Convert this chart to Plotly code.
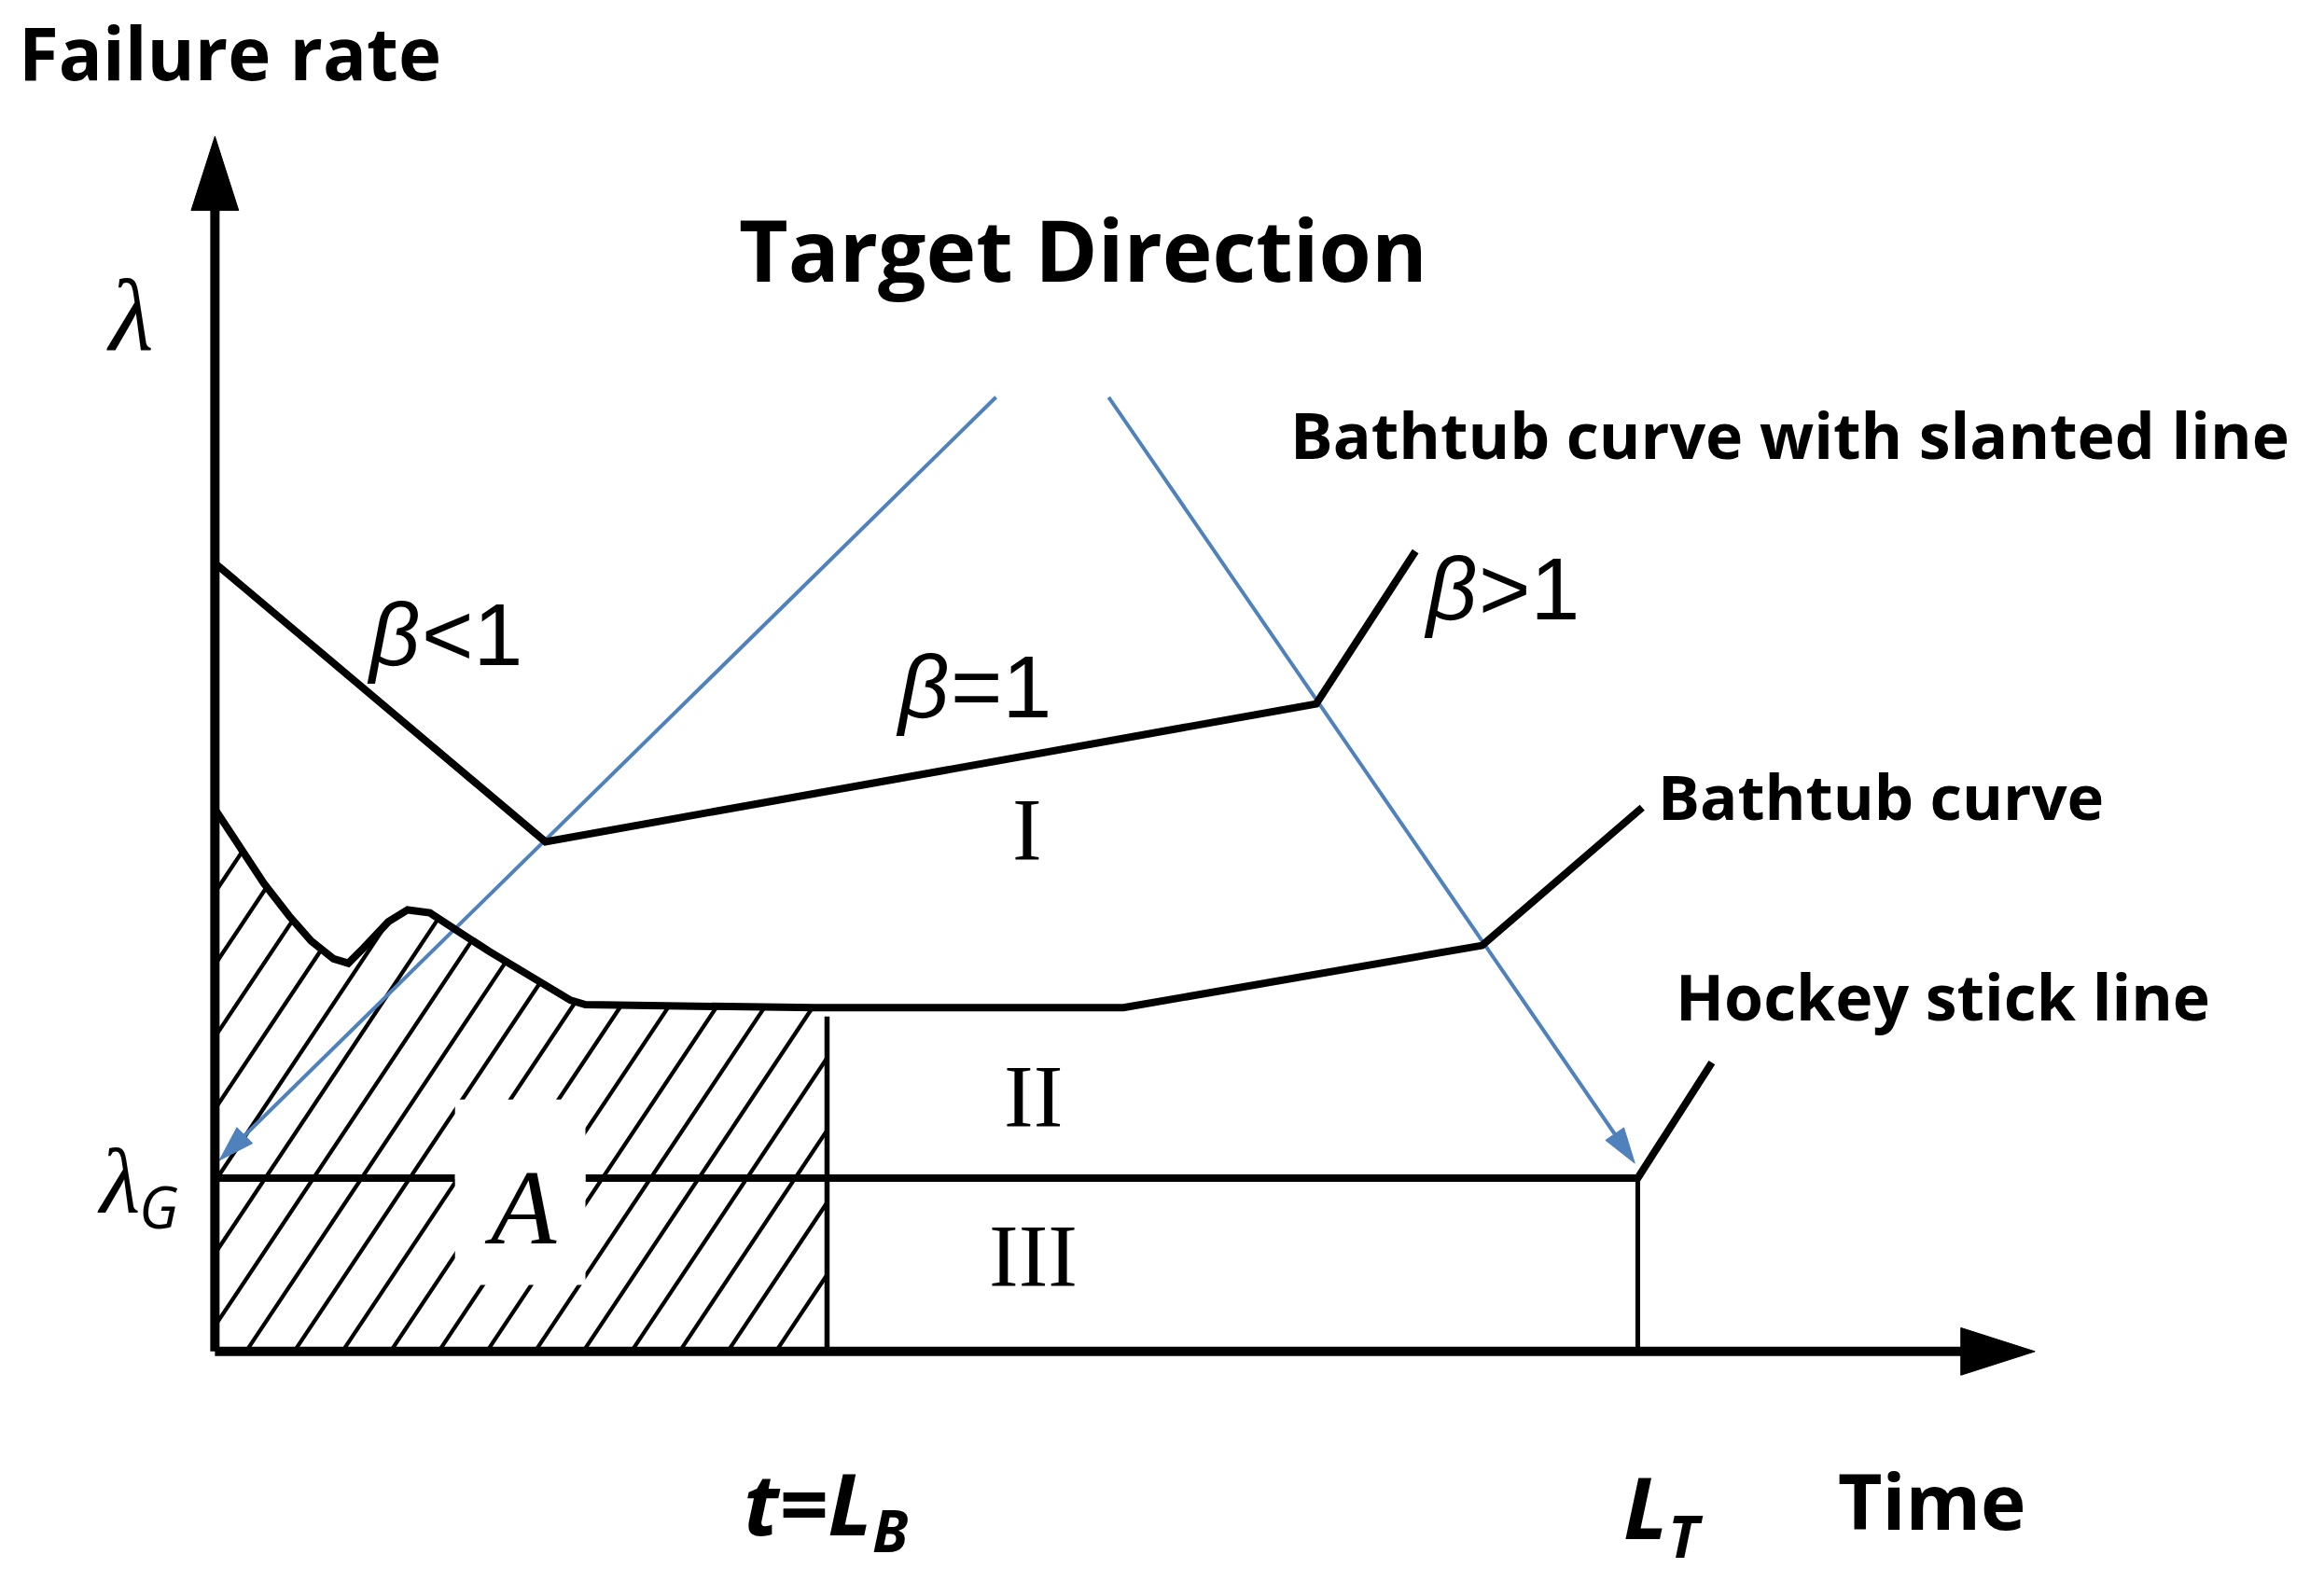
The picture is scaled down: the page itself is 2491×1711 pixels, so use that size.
import numpy as np
import plotly.graph_objects as go

# ---------------- data (diagram units; origin = corner of the axes) ----------------
# Bathtub curve with slanted line (beta<1 -> beta=1 -> beta>1)
slanted_t = [0, 223, 743, 810]
slanted_r = [532, 344, 437, 540]

# Bathtub curve
bathtub_t = [0, 18, 33, 50, 65, 80, 90, 100, 117, 130, 145, 185, 240, 250, 405, 613, 855, 963]
bathtub_r = [366, 338, 316, 294, 277, 265, 262, 272, 290, 298, 296, 270, 237, 234, 232, 232, 274, 367]

# Hockey stick line
lambda_G = 117
L_B = 413
L_T = 960
hockey_end_t = 1010
hockey_end_r = 195
gap_t = [162, 250]          # break in the lambda_G line around label A

# Target-direction (blue) arrows: start -> tip
target_left_t = [527, 3]
target_left_r = [644, 129]
target_right_t = [603, 958]
target_right_r = [644, 127]

# Axes extents
axis_x_end = 1228
axis_y_end = 820

# ---------------- styling ----------------
BLACK = "#000000"
BLUE = "#4f81bd"
SANS = "Open Sans"
SERIF = "Liberation Serif"
NARROW = "Liberation Sans Narrow, Liberation Sans"

fig = go.Figure()

def add_line(x, y, width, color=BLACK):
    fig.add_trace(go.Scatter(x=x, y=y, mode="lines", hoverinfo="skip",
                             line=dict(color=color, width=width),
                             showlegend=False))

def add_head(tx, ty, ux, uy, length, half, color):
    n = np.hypot(ux, uy)
    ux, uy = ux / n, uy / n
    px, py = -uy, ux
    bx, by = tx - length * ux, ty - length * uy
    fig.add_trace(go.Scatter(
        x=[tx, bx + half * px, bx - half * px, tx],
        y=[ty, by + half * py, by - half * py, ty],
        mode="lines", fill="toself", fillcolor=color,
        line=dict(color=color, width=1), hoverinfo="skip", showlegend=False))

# ---- hatching of area A (under bathtub curve, 0..L_B) ----
tan_a = 1.5
spacing = 32.5
offset = 21
r_grid = np.linspace(0, 420, 4201)
hx, hy = [], []
for k in range(-20, 20):
    t0 = offset + k * spacing
    t = t0 + r_grid / tan_a
    top = np.interp(t, bathtub_t, bathtub_r)
    inside = (t >= 0) & (t <= L_B) & (r_grid <= top)
    if not inside.any():
        continue
    idx = np.where(inside)[0]
    breaks = np.where(np.diff(idx) > 1)[0]
    starts = np.concatenate([[idx[0]], idx[breaks + 1]])
    ends = np.concatenate([idx[breaks], [idx[-1]]])
    for s, e in zip(starts, ends):
        hx += [t[s], t[e], None]
        hy += [r_grid[s], r_grid[e], None]
add_line(hx, hy, 4.3)

# ---- blue target-direction arrows ----
for ts, rs in [(target_left_t, target_left_r), (target_right_t, target_right_r)]:
    head_l = 24
    dx, dy = ts[1] - ts[0], rs[1] - rs[0]
    d = np.hypot(dx, dy)
    add_line([ts[0], ts[1] - dx / d * head_l * 0.6], [rs[0], rs[1] - dy / d * head_l * 0.6], 4, BLUE)
    add_head(ts[1], rs[1], dx, dy, head_l, 7.5, BLUE)

# ---- curves ----
add_line(slanted_t, slanted_r, 8)
add_line(bathtub_t, bathtub_r, 8)
add_line([0, gap_t[0], None, gap_t[1], L_T, hockey_end_t],
         [lambda_G, lambda_G, None, lambda_G, lambda_G, hockey_end_r], 8)
add_line([L_B, L_B], [0, np.interp(L_B, bathtub_t, bathtub_r) - 6], 5.5)
add_line([L_T, L_T], [0, lambda_G], 5)

# ---- axes with arrow heads ----
head_len, head_half = 50, 16
add_line([0, axis_x_end - head_len + 4], [0, 0], 10)
add_line([0, 0], [0, axis_y_end - head_len + 4], 10)
add_head(axis_x_end, 0, 1, 0, head_len, head_half, BLACK)
add_head(0, axis_y_end, 0, 1, head_len, head_half, BLACK)

# ---- white gap around label A ----
fig.add_shape(type="rect", xref="x", yref="y", x0=gap_t[0], x1=gap_t[1], y0=45, y1=170,
              fillcolor="white", line=dict(width=0), layer="above")

annotations = []

def txt(x, y, text, size, family=SANS, xanchor="center", bold=False, italic=False):
    annotations.append(dict(x=x, y=y, xref="x", yref="y", text=text, showarrow=False,
                            xanchor=xanchor, yanchor="middle", borderpad=0,
                            font=dict(family=family, size=size, color=BLACK,
                                      weight="bold" if bold else "normal",
                                      style="italic" if italic else "normal")))

txt(-133, 877, "Failure rate", 78, xanchor="left", bold=True)
txt(586, 744, "Target Direction", 91, bold=True)
txt(725, 619, "Bathtub curve with slanted line", 68, xanchor="left", bold=True)
txt(973, 375, "Bathtub curve", 67, xanchor="left", bold=True)
txt(985, 240, "Hockey stick line", 68, xanchor="left", bold=True)
txt(1158, -100, "Time", 82, bold=True)

# t = L_B
txt(444, -102, "t=L", 92, xanchor="right", bold=True, italic=True)
txt(443, -120, "B", 62, xanchor="left", bold=True, italic=True)
# L_T
txt(981, -104, "L", 92, xanchor="right", bold=True, italic=True)
txt(980, -124, "T", 62, xanchor="left", bold=True, italic=True)
# lambda, lambda_G
txt(-57, 699, "λ", 110, family=SERIF, italic=True)
txt(-50, 115, "λ", 100, family=SERIF, xanchor="right", italic=True)
txt(-52, 98, "G", 62, xanchor="left", italic=True)

# beta labels
for split, y, rest in [(139, 484, "<1"), (496, 449, "=1"), (852, 515, ">1")]:
    txt(split, y, "β", 95, family=NARROW, xanchor="right", italic=True)
    txt(split, y, rest, 95, family=NARROW, xanchor="left")

txt(548, 352, "I", 95, family=SERIF)
txt(552, 172, "II", 95, family=SERIF)
txt(552, 64, "III", 95, family=SERIF)
txt(206, 97, "A", 115, family=SERIF, italic=True)

fig.update_layout(
    width=2491, height=1711,
    margin=dict(l=0, r=0, t=0, b=0),
    paper_bgcolor="white", plot_bgcolor="white",
    xaxis=dict(range=[-145, 1423], visible=False, fixedrange=True),
    yaxis=dict(range=[-165, 912], visible=False, fixedrange=True),
    annotations=annotations,
    showlegend=False,
)

fig.write_html("out.html", include_plotlyjs=True, config={"displayModeBar": False},
               post_script="document.body.style.margin='0';document.body.style.overflow='hidden';")
